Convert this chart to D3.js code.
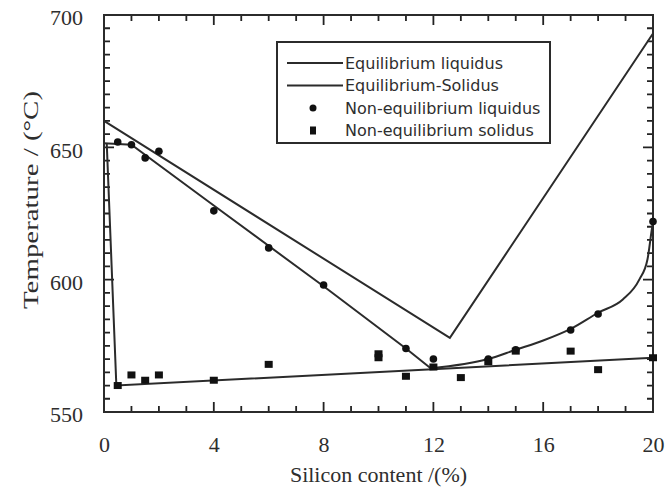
<!DOCTYPE html>
<head>
<meta charset="utf-8">
<title>Al-Si temperatures</title>
<script src="https://d3js.org/d3.v7.min.js"></script>
<style>
  body { margin: 0; background: #fff; }
  .lab text { font-family: "Liberation Serif", serif; font-size: 22px; fill: #2e2e2e; }
  .legend text { font-family: "DejaVu Sans", sans-serif; font-size: 16px; fill: #2e2e2e; }
</style>
</head>
<body>
<div id="chart"></div>
<script>

  // equilibrium liquidus (V shape)
  var eqLiquidus = [[0, 660], [12.6, 578], [20, 693]];
  // equilibrium solidus: descending branch then rising curve
  var solidDown = [[0, 651.5], [1, 651], [4, 628], [8, 597.5], [11, 574], [11.9, 566.5]];
  var solidUp = [[11.9, 566.5], [14, 570], [15, 573.5], [16, 577], [17, 581.4], [18, 587.5], [18.9, 592.5], [19.5, 600], [19.8, 607.7], [19.95, 618.5], [20, 622]];
  // lower line
  var lowLine = [[0.1, 651.5], [0.45, 560], [20, 570.5]];

  var liqX = [0.5, 1, 1.5, 2, 4, 6, 8, 11, 12, 14, 15, 17, 18, 20];
  var liqT = [652, 651, 646, 648.5, 626, 612, 598, 574, 570, 570, 573.5, 581, 587, 622];
  var solX = [0.5, 1, 1.5, 2, 4, 6, 10, 10, 11, 12, 13, 14, 15, 17, 18, 20];
  var solT = [560, 564, 562, 564, 562, 568, 572, 570.5, 563.5, 567, 563, 569, 573, 573, 566, 570.5];

  var xTicks = [0, 4, 8, 12, 16, 20];
  var yTicks = [550, 600, 650, 700];
  var legendLabels = ["Equilibrium liquidus", "Equilibrium-Solidus", "Non-equilibrium liquidus", "Non-equilibrium solidus"];

  var margin = {top: 15, right: 14, bottom: 76, left: 104},
      width = 667 - margin.left - margin.right,
      height = 488 - margin.top - margin.bottom;

  var ink = "#2b2b2b";

  var svg = d3.select("#chart")
    .append("svg")
      .attr("width", 667)
      .attr("height", 488)
    .append("g")
      .attr("transform", "translate(" + margin.left + "," + margin.top + ")");

  var x = d3.scaleLinear().domain([0, 20]).range([0, width]);
  var y = d3.scaleLinear().domain([550, 700]).range([height, 0]);

  // inward tick marks on all four sides, one path
  var tickPath = d3.path();
  d3.range(0, 21, 1).forEach(function(v) {
    var len = v % 4 === 0 ? 10 : 6;
    tickPath.moveTo(x(v), height); tickPath.lineTo(x(v), height - len);
    tickPath.moveTo(x(v), 0); tickPath.lineTo(x(v), len);
  });
  d3.range(550, 701, 5).forEach(function(v) {
    var len = v % 50 === 0 ? 10 : 6;
    tickPath.moveTo(0, y(v)); tickPath.lineTo(len, y(v));
    tickPath.moveTo(width, y(v)); tickPath.lineTo(width - len, y(v));
  });
  svg.append("path").attr("d", tickPath.toString())
    .attr("fill", "none").attr("stroke", "#222").attr("stroke-width", 1.8);

  svg.append("rect")
    .attr("width", width).attr("height", height)
    .attr("fill", "none").attr("stroke", ink).attr("stroke-width", 2);

  var xAxis = svg.append("g").attr("class", "lab")
    .attr("transform", "translate(0," + height + ")")
    .call(d3.axisBottom(x).tickValues(xTicks).tickSize(0).tickPadding(24));
  xAxis.select(".domain").remove();

  var yAxis = svg.append("g").attr("class", "lab")
    .call(d3.axisLeft(y).tickValues(yTicks).tickSize(0).tickPadding(21));
  yAxis.select(".domain").remove();
  yAxis.selectAll(".tick text").attr("dy", "0.45em");

  svg.append("text")
    .attr("x", width / 2).attr("y", height + 70)
    .attr("text-anchor", "middle")
    .style("font-family", "Liberation Serif, serif").style("font-size", "22px").style("fill", "#2e2e2e")
    .text("Silicon content /(%)");

  svg.append("text")
    .attr("transform", "translate(-66," + (200 - margin.top) + ") rotate(-90)")
    .attr("text-anchor", "middle")
    .attr("textLength", 218).attr("lengthAdjust", "spacingAndGlyphs")
    .style("font-family", "Liberation Serif, serif").style("font-size", "22px").style("fill", "#2e2e2e")
    .text("Temperature / (\u00B0C)");

  var lineGen = d3.line().x(function(d) { return x(d[0]); }).y(function(d) { return y(d[1]); });
  var curveGen = d3.line().curve(d3.curveMonotoneX).x(function(d) { return x(d[0]); }).y(function(d) { return y(d[1]); });

  [eqLiquidus, solidDown, lowLine].forEach(function(p) {
    svg.append("path").attr("d", lineGen(p))
      .attr("fill", "none").attr("stroke", ink).attr("stroke-width", 2);
  });
  svg.append("path").attr("d", curveGen(solidUp))
    .attr("fill", "none").attr("stroke", ink).attr("stroke-width", 2);

  svg.append("g").selectAll("circle")
    .data(liqX).enter().append("circle")
      .attr("cx", function(d) { return x(d); })
      .attr("cy", function(d, i) { return y(liqT[i]); })
      .attr("r", 3.8)
      .attr("fill", "#111");

  svg.append("g").selectAll("rect")
    .data(solX).enter().append("rect")
      .attr("x", function(d) { return x(d) - 4; })
      .attr("y", function(d, i) { return y(solT[i]) - 3.5; })
      .attr("width", 8).attr("height", 7)
      .attr("fill", "#111");

  // legend
  var lg = svg.append("g").attr("class", "legend").attr("transform", "translate(" + (277 - margin.left) + "," + (42 - margin.top) + ")");
  lg.append("rect").attr("width", 273).attr("height", 101)
    .attr("fill", "#fff").attr("stroke", ink).attr("stroke-width", 2);
  legendLabels.forEach(function(t, i) {
    var cy = 21 + i * 22.5;
    if (i < 2) {
      lg.append("line").attr("x1", 10).attr("x2", 66).attr("y1", cy).attr("y2", cy)
        .attr("stroke", ink).attr("stroke-width", 2);
    } else if (i === 2) {
      lg.append("circle").attr("cx", 36).attr("cy", cy).attr("r", 3.5).attr("fill", "#111");
    } else {
      lg.append("rect").attr("x", 33).attr("y", cy - 4).attr("width", 6).attr("height", 8).attr("fill", "#111");
    }
    lg.append("text").attr("x", 68).attr("y", cy).attr("dy", "0.35em").text(t);
  });

</script>
</body>
